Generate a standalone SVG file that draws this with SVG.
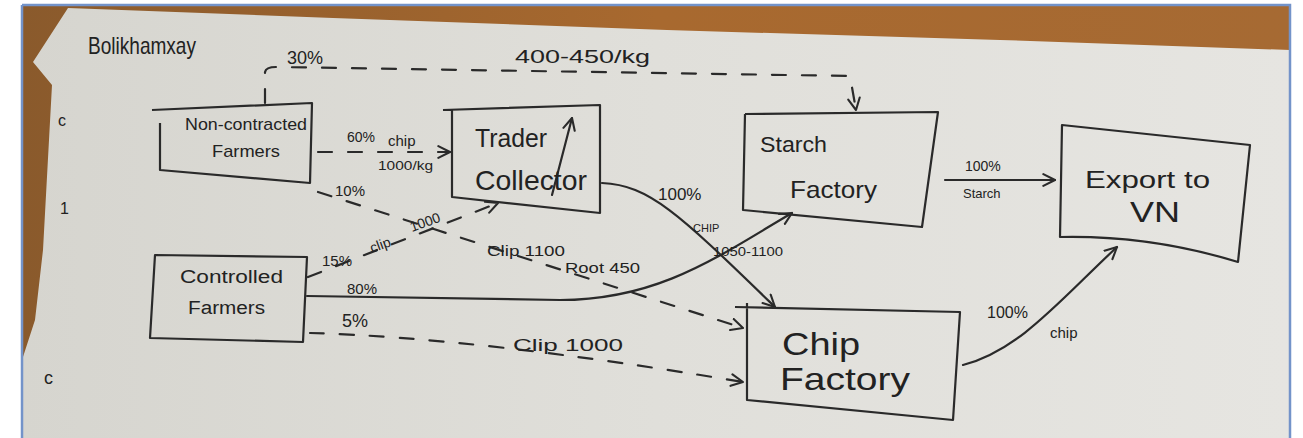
<svg xmlns="http://www.w3.org/2000/svg" width="1303" height="438" viewBox="0 0 1303 438">
<defs>
<linearGradient id="paper" x1="0" y1="0" x2="1" y2="0">
<stop offset="0" stop-color="#d6d5cf"/>
<stop offset="0.5" stop-color="#e0dfda"/>
<stop offset="1" stop-color="#e6e5e1"/>
</linearGradient>
<linearGradient id="wood" x1="0" y1="0" x2="1" y2="0">
<stop offset="0" stop-color="#8a5a2c"/>
<stop offset="0.5" stop-color="#a8692f"/>
<stop offset="1" stop-color="#a66a33"/>
</linearGradient>
<marker id="arr" viewBox="0 0 12 12" refX="11" refY="6" markerWidth="14" markerHeight="14" markerUnits="userSpaceOnUse" orient="auto">
<path d="M1,1 L11,6 L1,11" fill="none" stroke="#2a2a2a" stroke-width="1.8" stroke-linecap="round" stroke-linejoin="round"/>
</marker>
</defs>
<style>
.ink{fill:none;stroke:#2a2a2a;stroke-width:2.2;stroke-linecap:round;stroke-linejoin:round}
.dash{stroke-dasharray:14 16}
.box{fill:none;stroke:#2a2a2a;stroke-width:2.2;stroke-linejoin:round}
text{font-family:"Liberation Sans","DejaVu Sans",sans-serif;fill:#222}
.lbl{font-size:15px}
</style>
<!-- background photo -->
<rect x="0" y="0" width="1303" height="438" fill="#ffffff"/>
<rect x="22" y="5" width="1268" height="433" fill="url(#wood)"/>
<path d="M33,62 L68,8 L333,18 L667,30 L1000,40 L1290,50 L1290,438 L22,438 L22,360 L35,320 L43,250 L52,85 Z" fill="url(#paper)"/>
<path d="M22,5 L1290,5 L1290,438 M22,5 L22,438" fill="none" stroke="#7393c9" stroke-width="2.5"/>

<text x="88" y="54" font-size="24" textLength="108" lengthAdjust="spacingAndGlyphs">Bolikhamxay</text>
<text x="58" y="126" font-size="16">c</text>
<text x="60" y="214" font-size="16">1</text>
<text x="44" y="384" font-size="18">c</text>

<g id="connectors">
<path class="ink dash" d="M265,103 L265,72 Q266,67 276,67 L850,76 L856,110" marker-end="url(#arr)"/>
<path class="ink dash" d="M318,152 L450,152" marker-end="url(#arr)"/>
<path class="ink dash" d="M318,192 L743,328" marker-end="url(#arr)"/>
<path class="ink dash" d="M308,277 L498,203" marker-end="url(#arr)"/>
<path class="ink" d="M307,296 L560,300 C660,300 720,255 792,213" marker-end="url(#arr)"/>
<path class="ink dash" d="M310,333 Q480,338 743,382" marker-end="url(#arr)"/>
<path class="ink" d="M602,183 C650,185 680,215 775,307" marker-end="url(#arr)"/>
<path class="ink" d="M945,180 L1055,180" marker-end="url(#arr)"/>
<path class="ink" d="M963,365 C1020,350 1060,300 1117,247" marker-end="url(#arr)"/>
<text x="287" y="64" font-size="18">30%</text>
<text x="515" y="63" font-size="18" textLength="135" lengthAdjust="spacingAndGlyphs">400-450/kg</text>
<text x="347" y="142" font-size="14">60%</text>
<text x="388" y="146" font-size="15">chip</text>
<text x="378" y="170" font-size="13" textLength="55" lengthAdjust="spacingAndGlyphs">1000/kg</text>
<text x="335" y="196" class="lbl">10%</text>
<text x="322" y="266" class="lbl">15%</text>
<text x="372" y="253" font-size="14" transform="rotate(-20 372 253)">clip</text>
<text x="412" y="232" font-size="14" transform="rotate(-20 412 232)">1000</text>
<text x="487" y="256" class="lbl" textLength="78" lengthAdjust="spacingAndGlyphs">Clip 1100</text>
<text x="565" y="273" class="lbl" textLength="75" lengthAdjust="spacingAndGlyphs">Root 450</text>
<text x="347" y="294" class="lbl">80%</text>
<text x="342" y="327" font-size="18">5%</text>
<text x="513" y="351" font-size="16" textLength="110" lengthAdjust="spacingAndGlyphs">Clip 1000</text>
<text x="658" y="200" font-size="17">100%</text>
<text x="693" y="232" font-size="11">CHIP</text>
<text x="713" y="256" font-size="12" textLength="70" lengthAdjust="spacingAndGlyphs">1050-1100</text>
<text x="965" y="171" font-size="14">100%</text>
<text x="963" y="198" font-size="13">Starch</text>
<text x="987" y="318" font-size="16">100%</text>
<text x="1050" y="338" class="lbl">chip</text>
</g>

<g id="non-contracted-farmers">
<path class="box" d="M152,110 L312,103 L310,183 L160,170 L160,123"/>
<text x="185" y="130" font-size="17" textLength="122" lengthAdjust="spacingAndGlyphs">Non-contracted</text>
<text x="212" y="157" font-size="17" textLength="68" lengthAdjust="spacingAndGlyphs">Farmers</text>
</g>
<g id="trader-collector">
<path class="box" d="M443,110 L600,105 L600,213 L452,197 L452,110"/>
<path class="ink" d="M552,195 L572,118" marker-end="url(#arr)"/>
<text x="475" y="147" font-size="26" textLength="72" lengthAdjust="spacingAndGlyphs">Trader</text>
<text x="475" y="190" font-size="28" textLength="112" lengthAdjust="spacingAndGlyphs">Collector</text>
</g>
<g id="starch-factory">
<path class="box" d="M745,114 L938,112 L922,227 L743,210 L745,114"/>
<text x="760" y="152" font-size="22" textLength="67" lengthAdjust="spacingAndGlyphs">Starch</text>
<text x="790" y="198" font-size="24" textLength="87" lengthAdjust="spacingAndGlyphs">Factory</text>
</g>
<g id="export-to-vn">
<path class="box" d="M1062,125 L1250,145 L1238,262 Q1150,235 1060,237 Z"/>
<text x="1085" y="188" font-size="24" textLength="125" lengthAdjust="spacingAndGlyphs">Export to</text>
<text x="1130" y="222" font-size="30" textLength="50" lengthAdjust="spacingAndGlyphs">VN</text>
</g>
<g id="controlled-farmers">
<path class="box" d="M155,255 L307,257 L303,342 L150,338 Z"/>
<text x="180" y="283" font-size="18" textLength="103" lengthAdjust="spacingAndGlyphs">Controlled</text>
<text x="188" y="314" font-size="18" textLength="77" lengthAdjust="spacingAndGlyphs">Farmers</text>
</g>
<g id="chip-factory">
<path class="box" d="M735,307 L960,312 L953,420 L747,400 L747,303"/>
<text x="782" y="355" font-size="32" textLength="78" lengthAdjust="spacingAndGlyphs">Chip</text>
<text x="780" y="390" font-size="32" textLength="130" lengthAdjust="spacingAndGlyphs">Factory</text>
</g>
</svg>
